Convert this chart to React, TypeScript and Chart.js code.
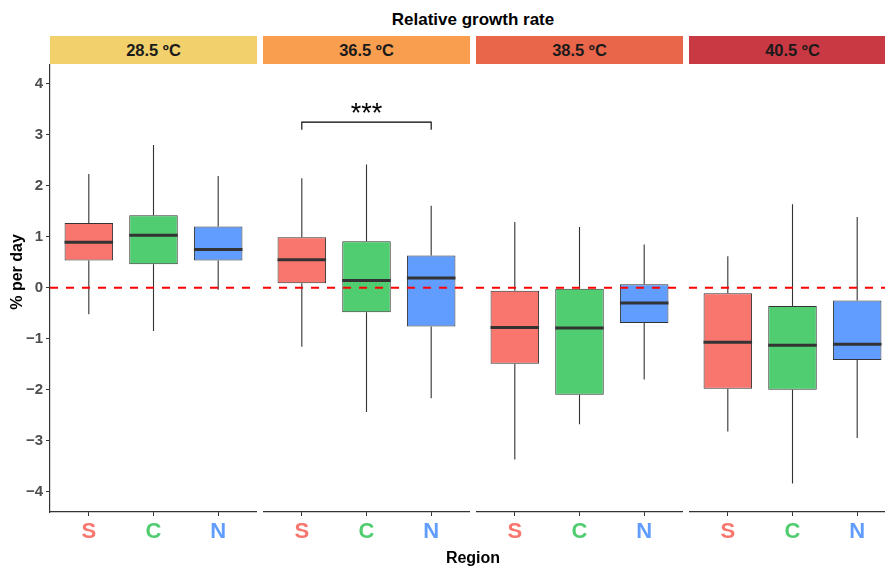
import React, { useEffect, useRef } from 'react';
import { Chart, registerables } from 'chart.js';

Chart.register(...registerables);

// ---------- data ----------
const temperatures = ['28.5 ºC', '36.5 ºC', '38.5 ºC', '40.5 ºC'];
const stripColors = ['#F2D06B', '#F99D4F', '#EA664B', '#C93943'];
const regions = ['S', 'C', 'N'];
const regionColors = ['#F8766D', '#50CD70', '#619CFF'];
const yTicks = [-4, -3, -2, -1, 0, 1, 2, 3, 4];

// per temperature panel, per region (S, C, N)
const lowerWhisker = [
  [-0.52, -0.85, -0.04],
  [-1.16, -2.44, -2.17],
  [-3.37, -2.68, -1.8],
  [-2.82, -3.84, -2.95],
];
const lowerHinge = [
  [0.535, 0.46, 0.535],
  [0.09, -0.48, -0.76],
  [-1.49, -2.1, -0.69],
  [-1.98, -2.0, -1.42],
];
const medians = [
  [0.89, 1.03, 0.75],
  [0.55, 0.14, 0.19],
  [-0.78, -0.79, -0.3],
  [-1.07, -1.13, -1.11],
];
const upperHinge = [
  [1.27, 1.42, 1.2],
  [0.99, 0.91, 0.63],
  [-0.06, -0.02, 0.07],
  [-0.11, -0.36, -0.25],
];
const upperWhisker = [
  [2.23, 2.8, 2.19],
  [2.15, 2.42, 1.61],
  [1.29, 1.19, 0.85],
  [0.62, 1.64, 1.39],
];

const referenceLine = 0;

// significance annotation
const sigPanel = 1;
const sigFrom = 'S';
const sigTo = 'N';
const sigY = 3.25;
const sigTipY = 3.1;
const sigLabel = '***';

const Y_MIN = -4.4;
const Y_MAX = 4.37;

// ---------- layout ----------
const FONT = '"Liberation Sans", Arial, Helvetica, sans-serif';
const W = 885;
const H = 568;
const PANEL_LEFT = 50;
const PANEL_W = 207;
const STEP = 213;
const PLOT_TOP = 65;
const PLOT_BOTTOM = 512;
const FULL_W = PANEL_W * 4 + (STEP - PANEL_W) * 3;

const boxExtras = {
  id: 'boxExtras',
  beforeDatasetsDraw(chart: any, _args: any, opts: any) {
    const p = opts.panel;
    const { ctx, scales } = chart;
    const x = scales.x;
    const y = scales.y;
    ctx.save();
    ctx.strokeStyle = '#333333';
    ctx.lineWidth = 1.1;
    for (let i = 0; i < regions.length; i++) {
      const px = x.getPixelForValue(i + 1);
      ctx.beginPath();
      ctx.moveTo(px, y.getPixelForValue(upperHinge[p][i]));
      ctx.lineTo(px, y.getPixelForValue(upperWhisker[p][i]));
      ctx.moveTo(px, y.getPixelForValue(lowerHinge[p][i]));
      ctx.lineTo(px, y.getPixelForValue(lowerWhisker[p][i]));
      ctx.stroke();
    }
    ctx.restore();
  },
  afterDatasetsDraw(chart: any, _args: any, opts: any) {
    const p = opts.panel;
    const { ctx, scales, chartArea } = chart;
    const x = scales.x;
    const y = scales.y;
    const meta = chart.getDatasetMeta(0);
    ctx.save();
    // medians
    ctx.strokeStyle = '#333333';
    ctx.lineWidth = 3;
    for (let i = 0; i < regions.length; i++) {
      const el: any = meta.data[i];
      const px = x.getPixelForValue(i + 1);
      const half = el.width / 2;
      const py = y.getPixelForValue(medians[p][i]);
      ctx.beginPath();
      ctx.moveTo(px - half, py);
      ctx.lineTo(px + half, py);
      ctx.stroke();
    }
    // dashed reference line
    const y0 = y.getPixelForValue(referenceLine);
    ctx.strokeStyle = '#FF0000';
    ctx.lineWidth = 2;
    ctx.setLineDash([8, 8]);
    ctx.beginPath();
    ctx.moveTo(chartArea.left, y0);
    ctx.lineTo(chartArea.right, y0);
    ctx.stroke();
    ctx.setLineDash([]);
    // significance bracket
    if (p === sigPanel) {
      const x1 = x.getPixelForValue(regions.indexOf(sigFrom) + 1);
      const x2 = x.getPixelForValue(regions.indexOf(sigTo) + 1);
      const yt = y.getPixelForValue(sigY);
      const yb = y.getPixelForValue(sigTipY);
      ctx.strokeStyle = '#000000';
      ctx.lineWidth = 1.1;
      ctx.beginPath();
      ctx.moveTo(x1, yb);
      ctx.lineTo(x1, yt);
      ctx.lineTo(x2, yt);
      ctx.lineTo(x2, yb);
      ctx.stroke();
      ctx.fillStyle = '#000000';
      ctx.font = `27px ${FONT}`;
      ctx.textAlign = 'center';
      ctx.textBaseline = 'alphabetic';
      ctx.fillText(sigLabel, (x1 + x2) / 2, yt);
    }
    ctx.restore();
  },
};

function makeConfig(panel: number): any {
  const first = panel === 0;
  return {
    type: 'bar',
    data: {
      datasets: [
        {
          data: regions.map((_, i) => ({
            x: i + 1,
            y: [lowerHinge[panel][i], upperHinge[panel][i]],
          })),
          backgroundColor: regionColors,
          borderColor: '#333333',
          borderWidth: 1,
          borderSkipped: false,
          categoryPercentage: 1,
          barPercentage: 0.75,
        },
      ],
    },
    options: {
      responsive: false,
      animation: false,
      devicePixelRatio: 1,
      layout: { padding: { top: PLOT_TOP, left: first ? 0 : 0, right: 0, bottom: 0 } },
      plugins: {
        legend: { display: false },
        tooltip: { enabled: false },
        boxExtras: { panel },
      },
      scales: {
        x: {
          type: 'linear',
          min: 0.4,
          max: 3.6,
          offset: false,
          afterBuildTicks: (s: any) => {
            s.ticks = regions.map((_, i) => ({ value: i + 1 }));
          },
          afterFit: (s: any) => {
            s.height = H - PLOT_BOTTOM;
          },
          grid: {
            display: true,
            offset: false,
            drawOnChartArea: false,
            drawTicks: true,
            tickLength: 4,
            color: '#333333',
          },
          border: { display: true, color: '#333333', width: 1.2 },
          ticks: {
            autoSkip: false,
            maxRotation: 0,
            padding: 3,
            font: { family: FONT, size: 22, weight: 'bold' },
            color: (c: any) => regionColors[c.index] ?? '#333',
            callback: (v: any) => regions[Math.round(v) - 1],
          },
        },
        y: {
          type: 'linear',
          display: first,
          min: Y_MIN,
          max: Y_MAX,
          afterBuildTicks: (s: any) => {
            s.ticks = yTicks.map((v) => ({ value: v }));
          },
          afterFit: (s: any) => {
            s.width = first ? PANEL_LEFT : 0;
          },
          grid: {
            display: true,
            drawOnChartArea: false,
            drawTicks: true,
            tickLength: 4,
            color: '#333333',
          },
          border: { display: true, color: '#333333', width: 1.2 },
          ticks: {
            padding: 3,
            font: { family: FONT, size: 15, weight: 'bold' },
            color: '#4D4D4D',
            callback: (v: any) => (v < 0 ? '\u2212' + Math.abs(v) : String(v)),
          },
        },
      },
    },
    plugins: [boxExtras],
  };
}

function Panel({ panel }: { panel: number }) {
  const ref = useRef<HTMLCanvasElement>(null);
  useEffect(() => {
    const chart = new Chart(ref.current as HTMLCanvasElement, makeConfig(panel));
    return () => chart.destroy();
  }, [panel]);
  const first = panel === 0;
  const left = first ? 0 : PANEL_LEFT + panel * STEP;
  const width = first ? PANEL_LEFT + PANEL_W : PANEL_W;
  return (
    <canvas
      ref={ref}
      width={width}
      height={H}
      style={{ position: 'absolute', left, top: 0, width, height: H }}
    />
  );
}

export default function App() {
  return (
    <div
      style={{
        position: 'fixed',
        left: 0,
        top: 0,
        width: W,
        height: H,
        overflow: 'hidden',
        background: '#ffffff',
        fontFamily: FONT,
      }}
    >
      <div
        style={{
          position: 'absolute',
          left: PANEL_LEFT,
          top: 0,
          width: FULL_W,
          height: 40,
          display: 'flex',
          alignItems: 'center',
          justifyContent: 'center',
          fontSize: 17,
          fontWeight: 'bold',
          color: '#000',
        }}
      >
        Relative growth rate
      </div>
      {temperatures.map((t, k) => (
        <div
          key={t}
          style={{
            position: 'absolute',
            left: PANEL_LEFT + k * STEP,
            top: 36,
            width: PANEL_W,
            height: 28,
            background: stripColors[k],
            display: 'flex',
            alignItems: 'center',
            justifyContent: 'center',
            fontSize: 16.5,
            fontWeight: 'bold',
            color: '#1A1A1A',
          }}
        >
          {t}
        </div>
      ))}
      {temperatures.map((t, k) => (
        <Panel key={'p' + t} panel={k} />
      ))}
      <div
        style={{
          position: 'absolute',
          left: 16.5 - 100,
          top: 272 - 10,
          width: 200,
          height: 20,
          lineHeight: '20px',
          textAlign: 'center',
          transform: 'rotate(-90deg)',
          fontSize: 16,
          fontWeight: 'bold',
          color: '#000',
          whiteSpace: 'nowrap',
        }}
      >
        % per day
      </div>
      <div
        style={{
          position: 'absolute',
          left: PANEL_LEFT,
          top: 548,
          width: FULL_W,
          height: 20,
          display: 'flex',
          alignItems: 'center',
          justifyContent: 'center',
          fontSize: 16,
          fontWeight: 'bold',
          color: '#000',
        }}
      >
        Region
      </div>
    </div>
  );
}
